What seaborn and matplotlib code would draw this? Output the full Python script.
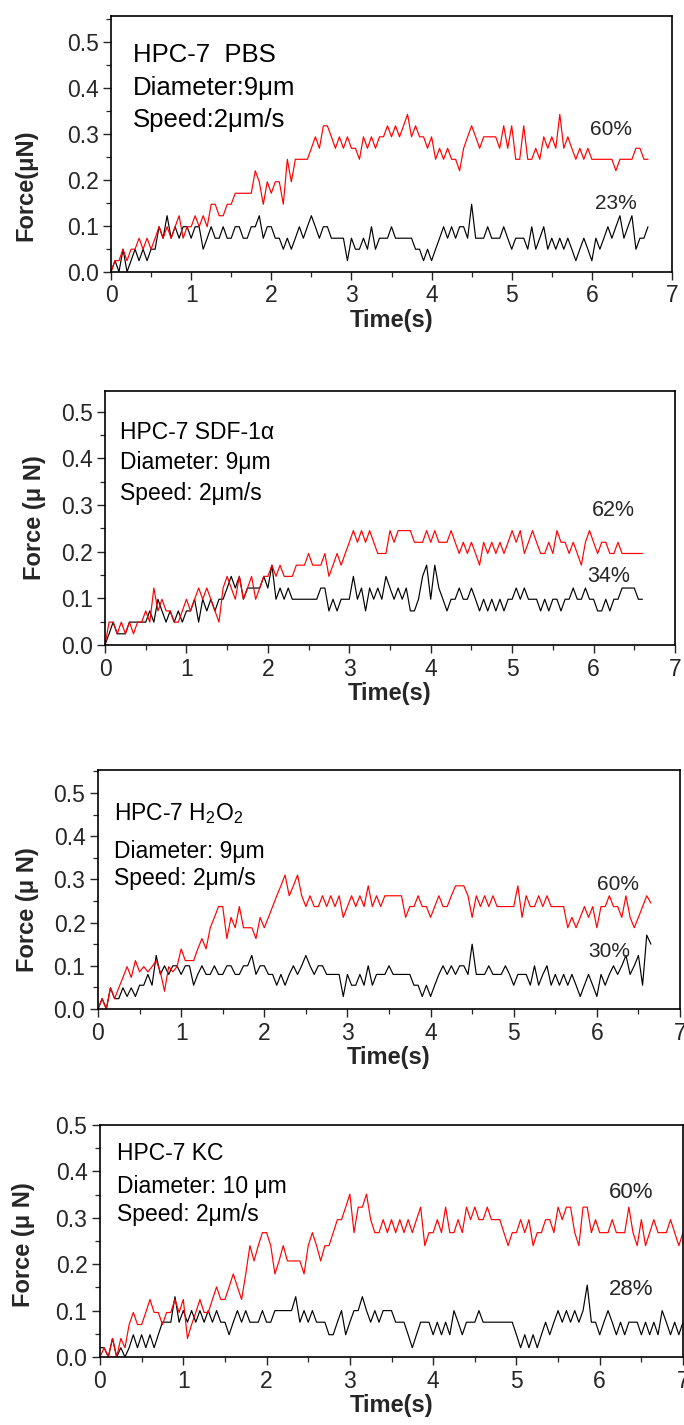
import numpy as np
import pandas as pd
import matplotlib
matplotlib.use("Agg")
import matplotlib.pyplot as plt
from matplotlib.ticker import MultipleLocator, FormatStrFormatter
import seaborn as sns

# ---------------- data (force in uN, sampled every 0.05 s) ----------------
SAMPLE_DT = 0.05

pbs_red = [
    0.0, 0.024, 0.024, 0.049, 0.024, 0.049, 0.049, 0.073, 0.049, 0.073,
    0.049, 0.073, 0.098, 0.073, 0.098, 0.073, 0.098, 0.122, 0.073, 0.098,
    0.098, 0.122, 0.098, 0.122, 0.098, 0.147, 0.147, 0.122, 0.122, 0.147,
    0.147, 0.171, 0.171, 0.171, 0.171, 0.171, 0.22, 0.196, 0.147, 0.196,
    0.171, 0.196, 0.196, 0.147, 0.245, 0.196, 0.245, 0.245, 0.245, 0.245,
    0.269, 0.294, 0.269, 0.318, 0.318, 0.294, 0.269, 0.294, 0.269, 0.294,
    0.269, 0.269, 0.245, 0.294, 0.269, 0.294, 0.269, 0.294, 0.294, 0.318,
    0.294, 0.318, 0.294, 0.318, 0.343, 0.294, 0.318, 0.294, 0.294, 0.269,
    0.294, 0.245, 0.269, 0.245, 0.269, 0.245, 0.245, 0.22, 0.269, 0.294,
    0.318, 0.294, 0.269, 0.294, 0.294, 0.294, 0.294, 0.269, 0.318, 0.269,
    0.318, 0.245, 0.245, 0.318, 0.245, 0.245, 0.269, 0.245, 0.294, 0.269,
    0.294, 0.269, 0.343, 0.269, 0.294, 0.269, 0.245, 0.269, 0.245, 0.269,
    0.245, 0.245, 0.245, 0.245, 0.245, 0.245, 0.22, 0.245, 0.245, 0.245,
    0.245, 0.269, 0.269, 0.245, 0.245,
]
pbs_black = [
    0.0, 0.024, 0.0, 0.049, 0.0, 0.024, 0.049, 0.024, 0.049, 0.024,
    0.049, 0.049, 0.098, 0.073, 0.122, 0.073, 0.098, 0.073, 0.098, 0.098,
    0.073, 0.098, 0.098, 0.049, 0.073, 0.098, 0.073, 0.073, 0.098, 0.073,
    0.073, 0.098, 0.098, 0.073, 0.073, 0.098, 0.098, 0.122, 0.073, 0.098,
    0.098, 0.073, 0.073, 0.049, 0.073, 0.049, 0.073, 0.098, 0.073, 0.098,
    0.122, 0.098, 0.073, 0.098, 0.098, 0.073, 0.073, 0.073, 0.073, 0.024,
    0.073, 0.049, 0.049, 0.073, 0.049, 0.098, 0.049, 0.073, 0.073, 0.073,
    0.098, 0.073, 0.073, 0.073, 0.073, 0.073, 0.049, 0.049, 0.024, 0.049,
    0.024, 0.049, 0.073, 0.098, 0.073, 0.098, 0.073, 0.098, 0.098, 0.073,
    0.147, 0.073, 0.073, 0.073, 0.098, 0.073, 0.073, 0.073, 0.098, 0.073,
    0.049, 0.073, 0.073, 0.073, 0.049, 0.098, 0.049, 0.073, 0.098, 0.049,
    0.073, 0.049, 0.073, 0.049, 0.073, 0.049, 0.024, 0.049, 0.073, 0.049,
    0.024, 0.073, 0.049, 0.073, 0.098, 0.073, 0.098, 0.122, 0.073, 0.098,
    0.122, 0.049, 0.073, 0.073, 0.098,
]

sdf_red = [
    0.0, 0.049, 0.049, 0.024, 0.049, 0.024, 0.049, 0.024, 0.049, 0.049,
    0.073, 0.049, 0.122, 0.073, 0.098, 0.073, 0.073, 0.049, 0.049, 0.073,
    0.098, 0.073, 0.098, 0.122, 0.098, 0.122, 0.098, 0.073, 0.049, 0.122,
    0.147, 0.122, 0.098, 0.147, 0.098, 0.122, 0.147, 0.098, 0.122, 0.147,
    0.147, 0.171, 0.147, 0.171, 0.147, 0.147, 0.147, 0.171, 0.171, 0.171,
    0.196, 0.171, 0.171, 0.171, 0.196, 0.147, 0.171, 0.196, 0.171, 0.196,
    0.22, 0.245, 0.22, 0.245, 0.22, 0.245, 0.22, 0.196, 0.196, 0.196,
    0.245, 0.22, 0.245, 0.245, 0.245, 0.245, 0.22, 0.22, 0.22, 0.245,
    0.22, 0.245, 0.22, 0.22, 0.22, 0.245, 0.22, 0.196, 0.22, 0.196,
    0.22, 0.196, 0.171, 0.22, 0.196, 0.22, 0.196, 0.22, 0.196, 0.22,
    0.245, 0.22, 0.245, 0.196, 0.22, 0.245, 0.22, 0.196, 0.196, 0.22,
    0.196, 0.245, 0.22, 0.22, 0.196, 0.22, 0.196, 0.171, 0.22, 0.245,
    0.22, 0.196, 0.22, 0.22, 0.196, 0.196, 0.22, 0.196, 0.196, 0.196,
    0.196, 0.196, 0.196,
]
sdf_black = [
    0.0, 0.024, 0.049, 0.024, 0.024, 0.024, 0.049, 0.049, 0.049, 0.049,
    0.049, 0.073, 0.049, 0.098, 0.073, 0.049, 0.073, 0.049, 0.073, 0.049,
    0.073, 0.073, 0.098, 0.049, 0.098, 0.073, 0.098, 0.073, 0.098, 0.098,
    0.122, 0.147, 0.122, 0.147, 0.098, 0.122, 0.122, 0.122, 0.122, 0.147,
    0.122, 0.171, 0.098, 0.122, 0.098, 0.122, 0.098, 0.098, 0.098, 0.098,
    0.098, 0.098, 0.098, 0.122, 0.122, 0.073, 0.098, 0.073, 0.098, 0.098,
    0.098, 0.147, 0.098, 0.122, 0.073, 0.122, 0.098, 0.122, 0.098, 0.147,
    0.122, 0.098, 0.122, 0.098, 0.122, 0.073, 0.073, 0.098, 0.147, 0.171,
    0.098, 0.171, 0.122, 0.098, 0.073, 0.098, 0.098, 0.122, 0.098, 0.098,
    0.122, 0.098, 0.073, 0.098, 0.073, 0.098, 0.073, 0.098, 0.073, 0.098,
    0.098, 0.122, 0.098, 0.122, 0.098, 0.098, 0.098, 0.073, 0.098, 0.073,
    0.098, 0.098, 0.073, 0.098, 0.098, 0.122, 0.098, 0.098, 0.122, 0.098,
    0.098, 0.073, 0.073, 0.098, 0.073, 0.098, 0.098, 0.122, 0.122, 0.122,
    0.122, 0.098, 0.098,
]

h2o2_red = [
    0.0, 0.024, 0.0, 0.049, 0.024, 0.049, 0.073, 0.098, 0.073, 0.112,
    0.086, 0.098, 0.086, 0.098, 0.112, 0.086, 0.041, 0.098, 0.086, 0.098,
    0.139, 0.112, 0.112, 0.112, 0.139, 0.163, 0.139, 0.188, 0.212, 0.237,
    0.237, 0.163, 0.212, 0.188, 0.237, 0.188, 0.188, 0.188, 0.163, 0.212,
    0.188, 0.212, 0.237, 0.262, 0.285, 0.31, 0.262, 0.285, 0.31, 0.262,
    0.237, 0.262, 0.237, 0.237, 0.262, 0.237, 0.262, 0.237, 0.262, 0.212,
    0.237, 0.262, 0.237, 0.262, 0.237, 0.285, 0.237, 0.262, 0.237, 0.262,
    0.262, 0.262, 0.262, 0.262, 0.212, 0.237, 0.237, 0.262, 0.237, 0.237,
    0.212, 0.237, 0.262, 0.237, 0.237, 0.262, 0.285, 0.285, 0.285, 0.262,
    0.212, 0.262, 0.237, 0.262, 0.237, 0.262, 0.237, 0.237, 0.237, 0.237,
    0.237, 0.285, 0.212, 0.262, 0.237, 0.237, 0.262, 0.237, 0.262, 0.237,
    0.237, 0.237, 0.237, 0.188, 0.212, 0.188, 0.212, 0.237, 0.212, 0.237,
    0.188, 0.237, 0.237, 0.262, 0.237, 0.237, 0.212, 0.262, 0.212, 0.188,
    0.212, 0.237, 0.262, 0.245,
]
h2o2_black = [
    0.0, 0.024, 0.0, 0.049, 0.024, 0.024, 0.049, 0.029, 0.049, 0.029,
    0.055, 0.055, 0.08, 0.055, 0.124, 0.08, 0.1, 0.08, 0.1, 0.1,
    0.08, 0.1, 0.1, 0.055, 0.08, 0.1, 0.08, 0.08, 0.1, 0.08,
    0.08, 0.1, 0.1, 0.08, 0.08, 0.1, 0.1, 0.124, 0.08, 0.1,
    0.1, 0.08, 0.08, 0.055, 0.08, 0.055, 0.08, 0.1, 0.08, 0.1,
    0.124, 0.1, 0.08, 0.1, 0.1, 0.08, 0.08, 0.08, 0.08, 0.029,
    0.08, 0.055, 0.055, 0.08, 0.055, 0.1, 0.055, 0.08, 0.08, 0.08,
    0.1, 0.08, 0.08, 0.08, 0.08, 0.08, 0.055, 0.055, 0.029, 0.055,
    0.029, 0.055, 0.08, 0.1, 0.08, 0.1, 0.08, 0.1, 0.1, 0.08,
    0.15, 0.08, 0.08, 0.08, 0.1, 0.08, 0.08, 0.08, 0.1, 0.08,
    0.055, 0.08, 0.08, 0.08, 0.055, 0.1, 0.055, 0.08, 0.1, 0.055,
    0.08, 0.055, 0.08, 0.055, 0.08, 0.055, 0.029, 0.055, 0.08, 0.055,
    0.029, 0.08, 0.055, 0.08, 0.1, 0.08, 0.1, 0.124, 0.08, 0.1,
    0.124, 0.055, 0.171, 0.15,
]

kc_red = [
    0.0, 0.02, 0.0, 0.04, 0.0, 0.04, 0.02, 0.07, 0.096, 0.07,
    0.07, 0.096, 0.124, 0.096, 0.096, 0.07, 0.096, 0.096, 0.124, 0.096,
    0.124, 0.04, 0.07, 0.096, 0.124, 0.096, 0.096, 0.124, 0.151, 0.124,
    0.124, 0.151, 0.179, 0.151, 0.124, 0.179, 0.24, 0.207, 0.24, 0.268,
    0.268, 0.24, 0.179, 0.207, 0.24, 0.207, 0.207, 0.207, 0.207, 0.179,
    0.24, 0.268, 0.24, 0.207, 0.24, 0.24, 0.268, 0.296, 0.296, 0.323,
    0.351, 0.268, 0.323, 0.323, 0.351, 0.296, 0.268, 0.268, 0.296, 0.268,
    0.296, 0.268, 0.296, 0.268, 0.296, 0.268, 0.296, 0.323, 0.24, 0.268,
    0.268, 0.296, 0.268, 0.323, 0.268, 0.268, 0.296, 0.268, 0.323, 0.296,
    0.323, 0.296, 0.296, 0.323, 0.296, 0.296, 0.296, 0.268, 0.24, 0.268,
    0.268, 0.296, 0.268, 0.296, 0.24, 0.268, 0.268, 0.296, 0.296, 0.268,
    0.323, 0.296, 0.323, 0.323, 0.268, 0.24, 0.323, 0.323, 0.268, 0.296,
    0.268, 0.268, 0.268, 0.296, 0.268, 0.268, 0.268, 0.323, 0.268, 0.24,
    0.296, 0.24, 0.268, 0.296, 0.268, 0.268, 0.268, 0.296, 0.268, 0.24,
    0.268,
]
kc_black = [
    0.02, 0.02, 0.0, 0.04, 0.0, 0.02, 0.0, 0.02, 0.048, 0.02,
    0.048, 0.02, 0.048, 0.02, 0.048, 0.075, 0.075, 0.075, 0.13, 0.075,
    0.1, 0.075, 0.1, 0.075, 0.1, 0.075, 0.1, 0.075, 0.1, 0.075,
    0.075, 0.048, 0.075, 0.1, 0.075, 0.1, 0.075, 0.075, 0.075, 0.1,
    0.075, 0.075, 0.1, 0.1, 0.1, 0.1, 0.1, 0.13, 0.075, 0.1,
    0.075, 0.1, 0.075, 0.075, 0.075, 0.048, 0.048, 0.075, 0.1, 0.048,
    0.075, 0.1, 0.1, 0.13, 0.1, 0.075, 0.1, 0.075, 0.1, 0.1,
    0.1, 0.075, 0.075, 0.075, 0.048, 0.02, 0.048, 0.075, 0.075, 0.075,
    0.048, 0.075, 0.048, 0.075, 0.048, 0.1, 0.075, 0.048, 0.075, 0.075,
    0.075, 0.1, 0.075, 0.075, 0.075, 0.075, 0.075, 0.075, 0.075, 0.075,
    0.048, 0.02, 0.048, 0.02, 0.048, 0.02, 0.048, 0.075, 0.048, 0.075,
    0.1, 0.075, 0.1, 0.075, 0.1, 0.075, 0.1, 0.155, 0.075, 0.075,
    0.048, 0.075, 0.1, 0.075, 0.048, 0.075, 0.048, 0.075, 0.075, 0.075,
    0.048, 0.075, 0.048, 0.075, 0.048, 0.1, 0.075, 0.048, 0.075, 0.048,
    0.075,
]

panel_titles = ["HPC-7  PBS", "HPC-7 SDF-1\u03b1", "HPC-7 H$_2$O$_2$", "HPC-7 KC"]
panel_diam = ["Diameter:9\u03bcm", "Diameter: 9\u03bcm", "Diameter: 9\u03bcm", "Diameter: 10 \u03bcm"]
panel_speed = ["Speed:2\u03bcm/s", "Speed: 2\u03bcm/s", "Speed: 2\u03bcm/s", "Speed: 2\u03bcm/s"]
red_pct = ["60%", "62%", "60%", "60%"]
black_pct = ["23%", "34%", "30%", "28%"]
ylabels = ["Force(\u03bcN)", "Force (\u03bc N)", "Force (\u03bc N)", "Force (\u03bc N)"]
x_ticks = [0, 1, 2, 3, 4, 5, 6, 7]
y_ticks = [0.0, 0.1, 0.2, 0.3, 0.4, 0.5]

series = [(pbs_red, pbs_black), (sdf_red, sdf_black), (h2o2_red, h2o2_black), (kc_red, kc_black)]

# ---------------- style ----------------
sns.set_style("ticks")
plt.rcParams["font.family"] = ["Liberation Sans", "DejaVu Sans"]
plt.rcParams["mathtext.default"] = "regular"
plt.rcParams["axes.linewidth"] = 1.2

W, H = 684, 1425
fig = plt.figure(figsize=(W / 100, H / 100), dpi=100)

# pixel boxes: left, right, top, bottom ; y max
boxes = [
    (111, 672, 15.7, 271.7, 0.558),
    (105, 675, 391, 645, 0.544),
    (98, 680, 770, 1009, 0.553),
    (100, 683, 1125, 1357, 0.50),
]
# label / text placements (axes fractions)
ylab_pos = [(-0.132, 0.339), (-0.1035, 0.5), (-0.101, 0.414), (-0.111, 0.483)]
ann_x = [0.039, 0.026, 0.0275, 0.029]
ann_y = [(0.846, 0.717, 0.593), (0.835, 0.717, 0.598), (0.816, 0.661, 0.544), (0.875, 0.737, 0.616)]
ann_fs = [18.5, 16.5, 16.5, 16.5]
pct_pos = [((0.891, 0.556), (0.900, 0.267)),
           ((0.892, 0.528), (0.884, 0.268)),
           ((0.893, 0.523), (0.878, 0.240)),
           ((0.911, 0.708), (0.911, 0.289))]
pct_fs = [15, 15.5, 15, 16]

for i, ((l, r, t, b, ymax), (red, black)) in enumerate(zip(boxes, series)):
    ax = fig.add_axes([l / W, 1 - b / H, (r - l) / W, (b - t) / H])
    df = pd.concat([
        pd.DataFrame({"time": np.arange(len(black)) * SAMPLE_DT, "force": black, "group": "control"}),
        pd.DataFrame({"time": np.arange(len(red)) * SAMPLE_DT, "force": red, "group": "treated"}),
    ], ignore_index=True)
    sns.lineplot(data=df, x="time", y="force", hue="group",
                 palette={"control": "black", "treated": "#ff0000"},
                 estimator=None, sort=False, linewidth=0.85, legend=False, ax=ax)
    ax.set_xlim(0, 7)
    ax.set_ylim(0, ymax)
    ax.set_xticks(x_ticks)
    ax.set_yticks(y_ticks)
    ax.xaxis.set_minor_locator(MultipleLocator(0.5))
    ax.yaxis.set_minor_locator(MultipleLocator(0.05))
    ax.yaxis.set_major_formatter(FormatStrFormatter("%.1f"))
    ax.tick_params(which="major", direction="out", length=6, width=1.0, labelsize=16.5, pad=3)
    ax.tick_params(which="minor", direction="out", length=3.5, width=0.9)
    for s in ax.spines.values():
        s.set_visible(True)
        s.set_color("black")
    ax.set_xlabel("Time(s)", fontsize=17, fontweight="bold", labelpad=1)
    ax.set_ylabel(ylabels[i], fontsize=17, fontweight="bold")
    ax.yaxis.set_label_coords(*ylab_pos[i])

    for txt, yy in zip([panel_titles[i], panel_diam[i], panel_speed[i]], ann_y[i]):
        ax.text(ann_x[i], yy, txt, transform=ax.transAxes, ha="left", va="center",
                fontsize=ann_fs[i], color="black")
    (rx, ry), (bx, by) = pct_pos[i]
    ax.text(rx, ry, red_pct[i], transform=ax.transAxes, ha="center", va="center", fontsize=pct_fs[i])
    ax.text(bx, by, black_pct[i], transform=ax.transAxes, ha="center", va="center", fontsize=pct_fs[i])

fig.savefig("out.png", dpi=100, facecolor="white")
